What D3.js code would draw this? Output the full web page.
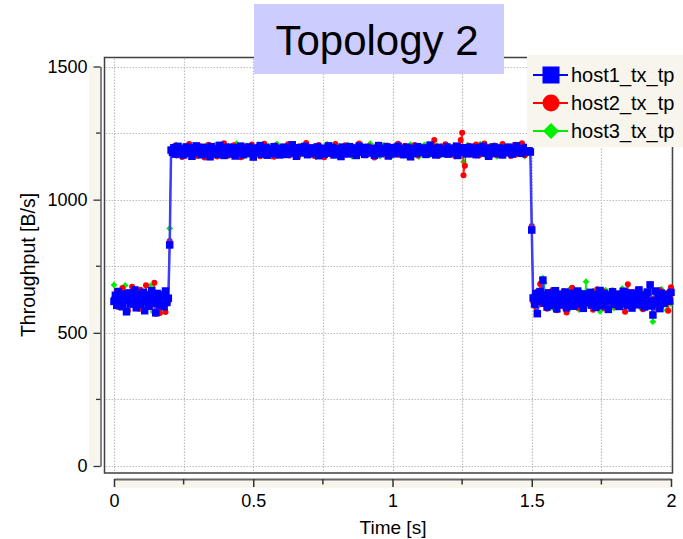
<!DOCTYPE html>
<html><head><meta charset="utf-8">
<script src="https://cdn.jsdelivr.net/npm/d3@7"></script>
<style>html,body{margin:0;padding:0;background:#fff;}svg{display:block;font-family:"Liberation Sans",Arial,sans-serif;}</style>
</head><body><svg id="c" width="683" height="539"></svg>
<script>
const titleText = "Topology 2";
const seriesNames = ["host1_tx_tp", "host2_tx_tp", "host3_tx_tp"];
const xTickValues = [0, 0.5, 1, 1.5, 2];
const xTickLabels = ["0", "0.5", "1", "1.5", "2"];
const xMinorTicks = [0.25, 0.75, 1.25, 1.75];
const yTickValues = [0, 500, 1000, 1500];
const yTickLabels = ["0", "500", "1000", "1500"];
const yMinorTicks = [250, 750, 1250];
const xLabel = "Time [s]";
const yLabel = "Throughput [B/s]";
const sampleStep = 0.005; // seconds between samples, 0 .. 2 s

// host1 (blue)
const h1Low1 = [618,641,603,655,627,612,598,646,633,579,622,650,608,637,615,661,594,629,644,606,624,652,583,617,639,600,632,658,611,626,575,648,620,604,642,635,598,657,614,630];
const h1Edges = [830, 886];
const h1High = [1186,1178,1195,1171,1189,1200,1175,1183,1192,1168,1187,1198,1174,1181,1194,1163,1188,1179,1202,1176,
1190,1184,1169,1196,1180,1173,1193,1186,1161,1199,1177,1185,1191,1170,1182,1204,1175,1188,1166,1193,
1181,1197,1172,1187,1179,1195,1164,1184,1190,1176,1201,1183,1169,1192,1178,1186,1198,1173,1189,1160,
1185,1194,1177,1182,1203,1171,1188,1180,1196,1167,1184,1191,1175,1187,1199,1172,1183,1193,1168,1189,
1178,1197,1184,1170,1192,1181,1186,1206,1174,1188,1163,1195,1179,1185,1191,1176,1200,1183,1169,1187,
1194,1173,1182,1190,1177,1198,1165,1186,1180,1193,1171,1189,1184,1202,1175,1181,1196,1168,1188,1179,
1191,1185,1162,1197,1176,1183,1190,1172,1199,1180,1187,1174,1194,1166,1185,1201,1178,1189,1183,1170,
1196,1181,1188,1175,1193,1184,1167,1190,1179,1203,1173,1186,1192,1177,1182,1198,1164,1187,1180,1195,
1172,1189,1184,1200,1176,1183,1191,1169,1186,1197,1178,1185,1161,1193,1181,1188,1174,1199,1182,1190,
1177,1194,1186,1170,1189,1180,1205,1175,1184,1192,1168,1187,1196,1179,1183,1173,1190,1185,1198,1171,
1188,1181,1193,1176,1186,1201,1166,1184,1190,1178,1195,1182,1172,1189,1185,1197,1174,1180,1192,1169,
1187,1195,1179,1183,1200,1175,1190,1184,1163,1193,1181,1186,1198,1173,1189,1177,1194,1182,1168,1191,
1185,1176,1197,1180,1188,1171,1193,1184,1202,1178,1186,1192,1174,1189,1181,1196,1183,1187,1179];
const h1Low2 = [631,608,647,572,619,655,640,698,612,636,597,650,624,603,643,616,658,590,629,645,
606,638,621,653,594,632,613,648,627,600,641,618,657,609,635,623,592,646,615,639,
628,652,604,620,644,596,637,611,659,625,602,648,617,633,588,642,622,654,607,630,
614,645,599,636,621,656,610,639,603,626,650,593,634,618,647,605,661,623,612,640,
597,629,653,616,680,601,567,620,657,608,632,591,649,625,611,643,627,637,619,652];

// host2 (red)
const h2Low1 = [630,612,658,597,641,622,668,605,619,650,583,636,609,673,627,601,645,616,590,662,624,638,607,679,614,648,596,631,655,688,572,642,603,574,628,611,652,578,637,619];
const h2Edges = [845, 901];
const h2High = [1190,1172,1185,1203,1166,1181,1195,1177,1160,1188,1199,1174,1186,1209,1169,1183,1192,1176,1197,1164,
1184,1201,1173,1189,1158,1194,1180,1206,1170,1187,1196,1175,1182,1162,1198,1186,1171,1193,1212,1178,
1188,1165,1197,1181,1174,1204,1185,1168,1192,1179,1159,1190,1200,1176,1187,1171,1195,1183,1207,1167,
1180,1193,1175,1189,1163,1198,1184,1210,1172,1186,1196,1169,1182,1191,1161,1203,1177,1188,1174,1194,
1185,1170,1199,1181,1208,1166,1190,1178,1195,1173,1187,1160,1201,1183,1176,1193,1186,1213,1168,1189,
1177,1197,1184,1164,1191,1180,1205,1171,1188,1194,1159,1182,1199,1175,1186,1170,1196,1183,1209,1173,
1190,1178,1162,1198,1185,1204,1169,1187,1193,1176,1200,1181,1165,1192,1184,1211,1174,1189,1179,1196,
1167,1186,1201,1175,1192,1183,1158,1197,1180,1206,1172,1189,1194,1170,1185,1203,1178,1163,1191,1182,
1199,1174,1187,1210,1168,1184,1195,1179,1202,1171,1190,1161,1196,1183,1177,1205,1186,1166,1193,1180,
1188,1175,1197,1169,1191,1182,1204,1173,1186,1224,1178,1194,1165,1189,1200,1176,1184,1208,1170,1192,
1181,1196,1172,1187,1163,1199,1184,1175,1224,1251,1092,1127,1190,1178,1202,1169,1186,1193,1174,1207,
1183,1166,1195,1180,1189,1211,1171,1186,1198,1162,1192,1177,1203,1184,1168,1196,1181,1188,1209,1173,
1190,1176,1199,1185,1164,1194,1181,1206,1170,1187,1197,1178,1212,1183,1167,1192,1186,1201,1175];
const h2Low2 = [618,642,596,655,629,683,607,637,614,650,590,626,645,603,661,621,634,585,648,611,
639,600,657,624,576,646,617,632,669,605,641,622,594,653,628,612,644,598,636,619,
651,609,630,587,647,623,664,602,638,615,656,592,633,620,645,606,627,659,613,640,
597,635,621,652,608,643,579,626,682,610,637,601,649,618,631,663,604,641,625,589,
647,616,639,605,677,628,611,654,594,636,620,660,599,643,624,612,650,583,632,671];

// host3 (green)
const h3Low1 = [680,622,641,605,633,617,648,599,678,626,611,639,603,652,620,636,594,645,613,629,607,643,618,600,637,624,676,610,579,632,649,615,603,640,627,596,654,621,612,634];
const h3Edges = [892, 895];
const h3High = [1180,1194,1171,1187,1205,1176,1190,1163,1185,1198,1174,1189,1182,1208,1169,1193,1178,1186,1201,1172,
1191,1167,1184,1197,1179,1203,1173,1188,1161,1195,1182,1176,1206,1186,1170,1192,1180,1199,1165,1189,
1183,1200,1175,1190,1168,1196,1184,1210,1172,1187,1179,1194,1162,1185,1202,1177,1191,1170,1198,1181,
1193,1174,1188,1207,1166,1184,1197,1179,1190,1171,1201,1186,1163,1195,1180,1189,1209,1173,1185,1176,
1199,1182,1168,1192,1185,1204,1174,1190,1177,1196,1164,1187,1181,1200,1172,1193,1186,1169,1206,1180,
1188,1175,1197,1183,1161,1191,1178,1203,1186,1170,1194,1182,1208,1173,1189,1177,1198,1165,1185,1192,
1176,1201,1184,1169,1195,1180,1190,1206,1172,1187,1163,1198,1183,1178,1193,1174,1202,1186,1167,1189,
1197,1179,1185,1210,1170,1192,1181,1175,1199,1186,1164,1194,1178,1205,1183,1171,1190,1187,1196,1166,
1184,1203,1173,1189,1180,1195,1168,1186,1200,1177,1192,1183,1207,1170,1188,1175,1197,1182,1162,1193,
1179,1190,1206,1174,1185,1198,1169,1187,1181,1194,1176,1203,1184,1165,1191,1178,1200,1186,1172,1196,
1182,1193,1175,1201,1186,1168,1190,1179,1196,1184,1142,1188,1173,1205,1181,1194,1170,1187,1199,1177,
1191,1180,1208,1172,1185,1196,1166,1189,1183,1202,1174,1193,1178,1187,1163,1198,1182,1190,1171,1204,
1186,1175,1195,1181,1200,1169,1188,1192,1177,1206,1183,1173,1197,1185,1164,1190,1179,1203,1184];
const h3Low2 = [627,611,640,598,653,619,633,705,687,645,603,630,616,658,594,636,622,648,607,641,
614,652,625,601,643,618,662,596,637,621,649,609,632,587,655,624,612,646,692,630,
606,639,620,657,599,634,615,650,581,628,644,610,660,623,602,638,617,654,593,635,
648,613,631,604,666,626,592,642,619,653,608,637,600,645,624,661,611,634,589,650,
622,643,605,638,616,659,542,631,597,647,613,628,664,602,640,619,585,652,626,610];

const seriesValues = [
  [...h1Low1, h1Edges[0], ...h1High, h1Edges[1], ...h1Low2],
  [...h2Low1, h2Edges[0], ...h2High, h2Edges[1], ...h2Low2],
  [...h3Low1, h3Edges[0], ...h3High, h3Edges[1], ...h3Low2]
];
const colors = ["#0000ff", "#ff0000", "#00ee00"];
const lineColors = ["#3c3cff", "#ff2020", "#20ee20"];
const lineWidths = [2.5, 1.3, 1.3];

const svg = d3.select("#c");
const x = d3.scaleLinear().domain([0, 2]).range([114, 671]);
const y = d3.scaleLinear().domain([0, 1500]).range([466, 66.5]);
const beige = "#f8f5ec";

// plot frame
svg.append("rect").attr("x", 104.5).attr("y", 57.5).attr("width", 568).attr("height", 415.5)
  .attr("fill", "#fff").attr("stroke", "#404040").attr("stroke-width", 1.5);

// grid
const gridX = [...xTickValues, ...xMinorTicks];
const gridY = [...yTickValues, ...yMinorTicks];
const grid = svg.append("g").attr("stroke", "#bdbdbd").attr("stroke-width", 1.2).attr("stroke-dasharray", "1.5,1.5");
grid.selectAll("line.gx").data(gridX).join("line").attr("class", "gx")
  .attr("x1", d => Math.round(x(d)) + 0.5).attr("x2", d => Math.round(x(d)) + 0.5).attr("y1", 58.5).attr("y2", 472);
grid.selectAll("line.gy").data(gridY).join("line").attr("class", "gy")
  .attr("y1", d => Math.round(y(d)) + 0.5).attr("y2", d => Math.round(y(d)) + 0.5).attr("x1", 105.5).attr("x2", 671.5);

// axis bands
svg.append("rect").attr("x", 89).attr("y", 66).attr("width", 11).attr("height", 400.5).attr("fill", beige);
svg.append("rect").attr("x", 114).attr("y", 479).attr("width", 557).attr("height", 9).attr("fill", beige);

// Y axis
const yAxis = d3.axisLeft(y).tickValues(yTickValues).tickFormat((d, i) => yTickLabels[i])
  .tickSize(7).tickPadding(6).tickSizeOuter(0);
const gy = svg.append("g").attr("transform", "translate(100.5,0)").call(yAxis);
gy.selectAll("text").attr("font-size", 18).attr("fill", "#000").attr("font-family", "Liberation Sans, Arial, sans-serif");
gy.selectAll("line").attr("stroke", "#333").attr("stroke-width", 1.3);
gy.select(".domain").attr("stroke", "#444").attr("stroke-width", 1.3);
svg.append("g").selectAll("line").data(yMinorTicks).join("line")
  .attr("x1", 96).attr("x2", 100.5).attr("y1", d => y(d)).attr("y2", d => y(d)).attr("stroke", "#333").attr("stroke-width", 1.3);

// X axis
const xAxis = d3.axisBottom(x).tickValues(xTickValues).tickFormat((d, i) => xTickLabels[i])
  .tickSize(8).tickPadding(7).tickSizeOuter(0);
const gx = svg.append("g").attr("transform", "translate(0,479)").call(xAxis);
gx.selectAll("text").attr("font-size", 18).attr("fill", "#000").attr("font-family", "Liberation Sans, Arial, sans-serif");
gx.selectAll("line").attr("stroke", "#333").attr("stroke-width", 1.5);
gx.select(".domain").attr("stroke", "#666").attr("stroke-width", 2);
svg.append("g").selectAll("line").data(xMinorTicks).join("line")
  .attr("y1", 479).attr("y2", 484.5).attr("x1", d => x(d)).attr("x2", d => x(d)).attr("stroke", "#333").attr("stroke-width", 1.5);

// axis titles
svg.append("text").attr("x", 393).attr("y", 534).attr("text-anchor", "middle")
  .attr("font-size", 19).attr("fill", "#000").text(xLabel);
svg.append("text").attr("transform", "translate(35,265) rotate(-90)").attr("text-anchor", "middle")
  .attr("font-size", 19.5).attr("fill", "#000").text(yLabel);

// series (drawn bottom to top: host3, host2, host1)
const markers = [
  (g, px, py) => g.append("rect").attr("x", px - 3.75).attr("y", py - 3.75).attr("width", 7.5).attr("height", 7.5),
  (g, px, py) => g.append("circle").attr("cx", px).attr("cy", py).attr("r", 3),
  (g, px, py) => g.append("path").attr("d", `M${px},${py - 3.4}L${px + 3.4},${py}L${px},${py + 3.4}L${px - 3.4},${py}Z`)
];
const line = d3.line().x((d, i) => x(i * sampleStep)).y(d => y(d));
[2, 1, 0].forEach(s => {
  const vals = seriesValues[s];
  const g = svg.append("g");
  g.append("path").datum(vals).attr("d", line).attr("fill", "none")
    .attr("stroke", lineColors[s]).attr("stroke-width", lineWidths[s]);
  const mg = g.append("g").attr("fill", colors[s]);
  vals.forEach((v, i) => markers[s](mg, x(i * sampleStep), y(v)));
});

// title
svg.append("rect").attr("x", 254).attr("y", 4).attr("width", 250).attr("height", 70).attr("fill", "#ccccff");
svg.append("text").attr("x", 377).attr("y", 55).attr("text-anchor", "middle")
  .attr("font-size", 42).attr("fill", "#000").text(titleText);

// legend
const lg = svg.append("g");
lg.append("rect").attr("x", 527).attr("y", 55).attr("width", 156).attr("height", 92).attr("fill", beige);
const legendMarkers = [
  (g, px, py) => g.append("rect").attr("x", px - 8.5).attr("y", py - 8.5).attr("width", 17).attr("height", 17),
  (g, px, py) => g.append("circle").attr("cx", px).attr("cy", py).attr("r", 8.5),
  (g, px, py) => g.append("path").attr("d", `M${px},${py - 8}L${px + 8},${py}L${px},${py + 8}L${px - 8},${py}Z`)
];
seriesNames.forEach((name, i) => {
  const cy = 75 + i * 28;
  const row = lg.append("g").attr("fill", colors[i]);
  row.append("line").attr("x1", 533).attr("x2", 568).attr("y1", cy).attr("y2", cy)
    .attr("stroke", colors[i]).attr("stroke-width", 2);
  legendMarkers[i](row, 551, cy);
  lg.append("text").attr("x", 571).attr("y", cy + 7).attr("font-size", 20).attr("fill", "#000").text(name);
});
</script></body></html>
